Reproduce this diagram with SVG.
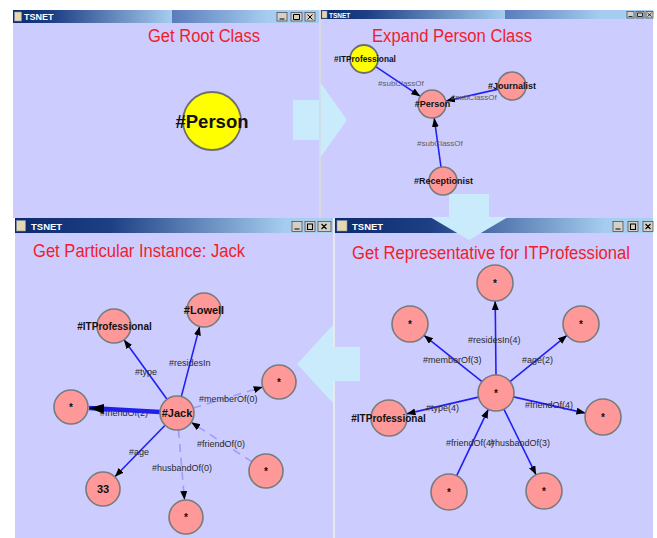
<svg xmlns="http://www.w3.org/2000/svg" width="657" height="538" viewBox="0 0 657 538">
<style>
.bg{fill:#ccccff}
.sep{fill:#d8d8e0}
.node{fill:#ff9999;stroke:#7a7a7a;stroke-width:1.6}
.ynode{fill:#ffff00;stroke:#6e6e6e;stroke-width:1.8}
.lbl{font-family:"Liberation Sans",Arial,sans-serif;font-weight:bold;fill:#111;text-anchor:middle}
.elbl{font-family:"Liberation Sans",Arial,sans-serif;font-size:9px;fill:#2a2a2a}
.glbl{font-family:"Liberation Sans",Arial,sans-serif;font-size:8px;fill:#5c5c5c}
.title{font-family:"Liberation Sans",Arial,sans-serif;fill:#f21d2a}
.edge{stroke:#2020f4;stroke-width:1.6;fill:none;marker-end:url(#ah)}
.dash{stroke:#9d9df6;stroke-width:1.6;fill:none;stroke-dasharray:8 6;marker-end:url(#ah)}
.thick{stroke:#2020e8;stroke-width:4.5;fill:none;marker-end:url(#ahb)}
.bigarrow{fill:#c9ebfb}
.tsnet{font-family:"Liberation Sans",Arial,sans-serif;font-weight:bold;fill:#fff}
.btn{fill:#d4d0c8;stroke:#404040;stroke-width:0.7}
.ico{fill:#e8d8b0;stroke:#8090b0;stroke-width:0.6}
</style>
<defs>
<marker id="ah" markerUnits="userSpaceOnUse" markerWidth="10" markerHeight="8" refX="9" refY="3.5" orient="auto"><path d="M0,0 L9,3.5 L0,7 z" fill="#000"/></marker>
<marker id="ahb" markerUnits="userSpaceOnUse" markerWidth="16" markerHeight="12" refX="15" refY="5" orient="auto"><path d="M0,0 L15,5 L0,10 z" fill="#000"/></marker>
<linearGradient id="gDark" x1="0" x2="1" y1="0" y2="0"><stop offset="0" stop-color="#0c2a6e"/><stop offset="0.25" stop-color="#1e3f84"/><stop offset="1" stop-color="#a6cdf0"/></linearGradient>
<linearGradient id="gMid" x1="0" x2="1" y1="0" y2="0"><stop offset="0" stop-color="#5a7cbc"/><stop offset="0.65" stop-color="#a6cdf0"/><stop offset="1" stop-color="#a6cdf0"/></linearGradient>
<linearGradient id="gLong" x1="0" x2="1" y1="0" y2="0"><stop offset="0" stop-color="#0c2a6e"/><stop offset="0.3" stop-color="#1e3f84"/><stop offset="0.85" stop-color="#a6cdf0"/><stop offset="1" stop-color="#a8d0f2"/></linearGradient>
</defs>
<rect width="657" height="538" fill="#ffffff"/>

<!-- Panel 1 window -->
<g id="panel1">
<rect class="bg" x="13" y="22" width="306" height="196"/>
<rect x="13" y="10" width="159" height="13" fill="url(#gDark)"/>
<rect x="172" y="10" width="147" height="13" fill="url(#gMid)"/>
<rect class="ico" x="14.5" y="12" width="7" height="9"/>
<text class="tsnet" x="24" y="20" font-size="9">TSNET</text>
<rect class="btn" x="277" y="12.5" width="10" height="8.5"/>
<rect class="btn" x="291" y="12.5" width="11" height="8.5"/>
<rect class="btn" x="305" y="12.5" width="10" height="8.5"/>
<path d="M279.5,19 h5 M293.5,14.5 h6 v5 h-6 z M307.5,14.5 l5,5 M312.5,14.5 l-5,5" stroke="#000" stroke-width="1" fill="none"/>
</g>

<!-- Panel 2 window -->
<g id="panel2">
<rect class="bg" x="321" y="18" width="332" height="200"/>
<rect x="321" y="10" width="184" height="9" fill="url(#gDark)"/>
<rect x="505" y="10" width="148" height="9" fill="url(#gMid)"/>
<rect class="ico" x="322" y="11" width="5" height="7"/>
<text class="tsnet" x="329" y="17.5" font-size="6.5">TSNET</text>
<rect class="btn" x="627" y="11.5" width="7" height="6.5"/>
<rect class="btn" x="636" y="11.5" width="8" height="6.5"/>
<rect class="btn" x="646" y="11.5" width="7" height="6.5"/>
<path d="M628.5,16.5 h4 M637.5,13 h5 v3.5 h-5 z M647.5,13 l4,3.5 M651.5,13 l-4,3.5" stroke="#000" stroke-width="0.8" fill="none"/>
</g>
<rect class="sep" x="319" y="10" width="2" height="208"/>

<!-- Panel 3 window -->
<g id="panel3">
<rect class="bg" x="15" y="232" width="318" height="306"/>
<rect x="15" y="218" width="318" height="15" fill="url(#gLong)"/>
<rect class="ico" x="16.5" y="220.5" width="9" height="10.5"/>
<text class="tsnet" x="31" y="230" font-size="9.5">TSNET</text>
<rect class="btn" x="292" y="221.5" width="10" height="10"/>
<rect class="btn" x="305" y="221.5" width="10" height="10"/>
<rect class="btn" x="318" y="221.5" width="13" height="10"/>
<path d="M294.5,229 h5 M307.5,224 h5 v5.5 h-5 z M321.5,224 l5,5 M326.5,224 l-5,5" stroke="#000" stroke-width="1.1" fill="none"/>
</g>

<!-- Panel 4 window -->
<g id="panel4">
<rect class="bg" x="335" y="232" width="318" height="306"/>
<rect x="335" y="218" width="318" height="15" fill="url(#gLong)"/>
<rect class="ico" x="337" y="220.5" width="10" height="10.5"/>
<text class="tsnet" x="352" y="230" font-size="9.5">TSNET</text>
<rect class="btn" x="613" y="221.5" width="10" height="10"/>
<rect class="btn" x="628" y="221.5" width="10" height="10"/>
<rect class="btn" x="643" y="221.5" width="10" height="10"/>
<path d="M615.5,229 h5 M630.5,224 h5 v5.5 h-5 z M645.5,224 l5,5 M650.5,224 l-5,5" stroke="#000" stroke-width="1.1" fill="none"/>
</g>
<rect x="333" y="218" width="2" height="320" fill="#e8e8f0"/>

<!-- Big flow arrows -->
<g id="flow-arrows">
<polygon class="bigarrow" points="293,100 320,100 320,82 347,120 320,158 320,140 293,140"/>
<polygon class="bigarrow" points="449,194 489,194 489,217 508,217 469,240 430,217 449,217"/>
<polygon class="bigarrow" points="360,347 333,347 333,325 297,364 333,403 333,381 360,381"/>
</g>
<rect class="sep" x="319" y="82" width="1.5" height="76"/>

<!-- Panel titles -->
<g id="titles">
<text class="title" x="148" y="42" font-size="18" textLength="112" lengthAdjust="spacingAndGlyphs">Get Root Class</text>
<text class="title" x="372" y="42" font-size="17.5" textLength="160" lengthAdjust="spacingAndGlyphs">Expand Person Class</text>
<text class="title" x="33" y="257" font-size="18.5" textLength="212" lengthAdjust="spacingAndGlyphs">Get Particular Instance: Jack</text>
<text class="title" x="352" y="258.5" font-size="18" textLength="278" lengthAdjust="spacingAndGlyphs">Get Representative for ITProfessional</text>
</g>

<!-- Connectors -->
<g id="connectors">
<!-- panel 2 -->
<line class="edge" x1="375.7" y1="66.7" x2="420.3" y2="96.3"/>
<line class="edge" x1="498.3" y1="89.1" x2="446" y2="101"/>
<line class="edge" x1="441" y1="167" x2="434.2" y2="118"/>
<text class="glbl" x="378" y="86">#subClassOf</text>
<text class="glbl" x="451" y="100">#subClassOf</text>
<text class="glbl" x="417" y="146">#subClassOf</text>
<!-- panel 3 -->
<text class="elbl" x="100" y="416">#friendOf(2)</text>
<line class="thick" x1="160" y1="412" x2="89" y2="408"/>
<line class="edge" x1="167" y1="399.2" x2="124" y2="339.8"/>
<line class="edge" x1="181.3" y1="396.6" x2="199.7" y2="326.4"/>
<line class="dash" x1="193.3" y1="408" x2="262.7" y2="387"/>
<line class="dash" x1="251.8" y1="461.7" x2="191.2" y2="422.3"/>
<line class="edge" x1="165.1" y1="425.2" x2="114.9" y2="476.8"/>
<line class="dash" x1="178.5" y1="429.9" x2="184.5" y2="500"/>
<text class="elbl" x="135" y="375">#type</text>
<text class="elbl" x="169" y="366">#residesIn</text>
<text class="elbl" x="199" y="402">#memberOf(0)</text>
<text class="elbl" x="197" y="447">#friendOf(0)</text>
<text class="elbl" x="129" y="455">#age</text>
<text class="elbl" x="152" y="471">#husbandOf(0)</text>
<!-- panel 4 -->
<line class="edge" x1="496" y1="375" x2="495.2" y2="301"/>
<line class="edge" x1="482" y1="381.7" x2="424" y2="335.3"/>
<line class="edge" x1="510" y1="381.7" x2="567" y2="335.3"/>
<line class="edge" x1="478.5" y1="397.1" x2="406.5" y2="413.9"/>
<line class="edge" x1="513.5" y1="396.9" x2="585.4" y2="413.1"/>
<line class="edge" x1="456.7" y1="475.7" x2="488.3" y2="409.3"/>
<line class="edge" x1="503.9" y1="409.2" x2="536.1" y2="474.8"/>
<text class="elbl" x="468" y="343">#residesIn(4)</text>
<text class="elbl" x="423" y="363">#memberOf(3)</text>
<text class="elbl" x="522" y="363">#age(2)</text>
<text class="elbl" x="426" y="411">#type(4)</text>
<text class="elbl" x="525" y="408">#friendOf(4)</text>
<text class="elbl" x="446" y="446">#friendOf(4)</text>
<text class="elbl" x="490" y="446">#husbandOf(3)</text>
</g>

<!-- Panel 1 node -->
<g id="p1-person"><circle class="ynode" cx="212" cy="121" r="29"/><text class="lbl" x="212" y="128" font-size="18.5">#Person</text></g>

<!-- Panel 2 nodes -->
<g id="p2-itprofessional"><circle class="ynode" cx="364" cy="59" r="14"/><text class="lbl" x="365" y="62" font-size="8.3">#ITProfessional</text></g>
<g id="p2-person"><circle class="node" cx="432" cy="104" r="14"/><text class="lbl" x="432.5" y="107" font-size="9">#Person</text></g>
<g id="p2-journalist"><circle class="node" cx="512" cy="86" r="14"/><text class="lbl" x="512" y="89" font-size="9">#Journalist</text></g>
<g id="p2-receptionist"><circle class="node" cx="443" cy="181" r="14"/><text class="lbl" x="443.5" y="184" font-size="9">#Receptionist</text></g>

<!-- Panel 3 nodes -->
<g id="p3-jack"><circle class="node" cx="177" cy="413" r="17"/><text class="lbl" x="177" y="417" font-size="11">#Jack</text></g>
<g id="p3-itprofessional"><circle class="node" cx="114" cy="326" r="17"/><text class="lbl" x="114.5" y="329.5" font-size="10">#ITProfessional</text></g>
<g id="p3-lowell"><circle class="node" cx="204" cy="310" r="17"/><text class="lbl" x="204" y="314" font-size="11">#Lowell</text></g>
<g id="p3-member"><circle class="node" cx="279" cy="382" r="17"/><text class="lbl" x="279" y="385.5" font-size="10">*</text></g>
<g id="p3-friend2"><circle class="node" cx="71" cy="407" r="17"/><text class="lbl" x="71" y="410.5" font-size="10">*</text></g>
<g id="p3-friend0"><circle class="node" cx="266" cy="471" r="17"/><text class="lbl" x="266" y="474.5" font-size="10">*</text></g>
<g id="p3-age"><circle class="node" cx="103" cy="489" r="17"/><text class="lbl" x="103" y="493" font-size="11">33</text></g>
<g id="p3-husband"><circle class="node" cx="186" cy="517" r="17"/><text class="lbl" x="186" y="520.5" font-size="10">*</text></g>

<!-- Panel 4 nodes -->
<g id="p4-center"><circle class="node" cx="496" cy="393" r="18"/><text class="lbl" x="496" y="396.5" font-size="10">*</text></g>
<g id="p4-top"><circle class="node" cx="495" cy="283" r="18"/><text class="lbl" x="495" y="286.5" font-size="10">*</text></g>
<g id="p4-upleft"><circle class="node" cx="410" cy="324" r="18"/><text class="lbl" x="410" y="327.5" font-size="10">*</text></g>
<g id="p4-upright"><circle class="node" cx="581" cy="324" r="18"/><text class="lbl" x="581" y="327.5" font-size="10">*</text></g>
<g id="p4-itprofessional"><circle class="node" cx="389" cy="418" r="18"/><text class="lbl" x="388.5" y="422" font-size="10">#ITProfessional</text></g>
<g id="p4-right"><circle class="node" cx="603" cy="417" r="18"/><text class="lbl" x="603" y="420.5" font-size="10">*</text></g>
<g id="p4-lowleft"><circle class="node" cx="449" cy="492" r="18"/><text class="lbl" x="449" y="495.5" font-size="10">*</text></g>
<g id="p4-lowright"><circle class="node" cx="544" cy="491" r="18"/><text class="lbl" x="544" y="494.5" font-size="10">*</text></g>
</svg>
